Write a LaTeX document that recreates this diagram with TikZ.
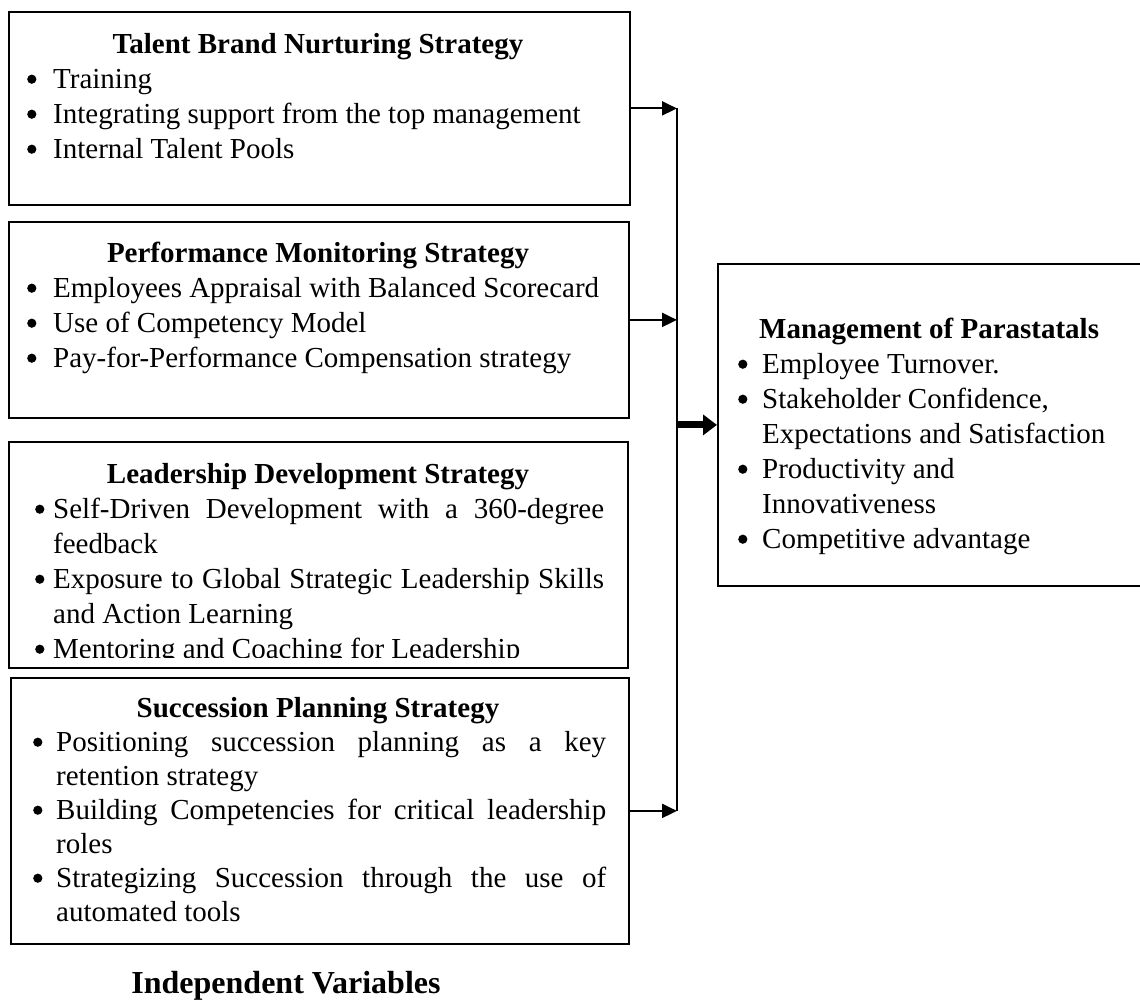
\documentclass[tikz,border=0pt]{standalone}
\usepackage{fontspec}
\setmainfont{Liberation Serif}
\usetikzlibrary{arrows.meta}

% round bullet mark, sitting at mid x-height
\newcommand{\dotmark}{\tikz[baseline=0pt]\fill (4.6pt,8.8pt) circle[radius=4.6pt];}
% one bulleted entry with a hanging indent of #1
\newcommand{\entry}[2]{\par\noindent\hangindent=#1\hangafter=1\makebox[#1][l]{\dotmark}#2}
\newcommand{\bodyfont}{\fontsize{29pt}{35pt}\selectfont}

\tikzset{
  frame/.style={draw, line width=1.8pt, rectangle, inner sep=0pt, anchor=north west},
  heading/.style={anchor=base, inner sep=0pt, font=\bodyfont\bfseries},
  items/.style={anchor=base west, inner sep=0pt},
  link/.style={line width=2pt, -{Triangle[length=15pt,width=14pt]}},
  bus/.style={line width=2pt},
  mainlink/.style={line width=7pt, -{Triangle[length=14pt,width=20pt]}},
}

\begin{document}
\begin{tikzpicture}[x=1pt,y=-1pt]
\useasboundingbox (0,0) rectangle (1140,999);
\clip (0,0) rectangle (1140,999);

% strategy boxes
\node[frame, minimum width=621pt, minimum height=193pt] (b1) at (8,11) {};
\node[frame, minimum width=620pt, minimum height=196pt] (b2) at (8,221) {};
\node[frame, minimum width=619pt, minimum height=226pt] (b3) at (8,441) {};
\node[frame, minimum width=618pt, minimum height=266pt] (b4) at (10,677) {};
% outcome box
\node[frame, minimum width=453pt, minimum height=322pt] (dv) at (717,263) {};

% Talent brand
\node[heading] (h1) at (318,53) {Talent Brand Nurturing Strategy};
\node[items] (l1) at (27,88) {\parbox[t]{577pt}{\bodyfont
  \entry{26pt}{Training}
  \entry{26pt}{Integrating support from the top management}
  \entry{26pt}{Internal Talent Pools}}};

% Performance monitoring
\node[heading] (h2) at (318,262) {Performance Monitoring Strategy};
\node[items] (l2) at (27,297) {\parbox[t]{577pt}{\bodyfont
  \entry{26pt}{Employees Appraisal with Balanced Scorecard}
  \entry{26pt}{Use of Competency Model}
  \entry{26pt}{Pay-for-Performance Compensation strategy}}};

% Leadership development (last line runs past the text area)
\node[heading] (h3) at (318,483) {Leadership Development Strategy};
\begin{scope}
\clip (0,441) rectangle (640,657);
\node[items] (l3) at (35,518) {\parbox[t]{569pt}{\bodyfont
  \entry{18pt}{Self-Driven Development with a 360-degree\linebreak feedback}
  \entry{18pt}{Exposure to Global Strategic Leadership Skills\linebreak and Action Learning}
  \entry{18pt}{Mentoring and Coaching for Leadership}}};
\end{scope}

% Succession planning
\node[heading] (h4) at (318,717) {Succession Planning Strategy};
\node[items] (l4) at (33,751) {\parbox[t]{573pt}{\fontsize{29pt}{34pt}\selectfont
  \entry{23pt}{Positioning succession planning as a key\linebreak retention strategy}
  \entry{23pt}{Building Competencies for critical leadership\linebreak roles}
  \entry{23pt}{Strategizing Succession through the use of\linebreak automated tools}}};

% Outcomes
\node[heading, anchor=base west] (h5) at (759,338) {Management of Parastatals};
\node[items] (l5) at (738,373) {\parbox[t]{400pt}{\bodyfont
  \entry{24pt}{Employee Turnover.}
  \entry{24pt}{Stakeholder Confidence,\newline Expectations and Satisfaction}
  \entry{24pt}{Productivity and\newline Innovativeness}
  \entry{24pt}{Competitive advantage}}};

\node[anchor=base, inner sep=0pt, font=\fontsize{32pt}{38pt}\selectfont\bfseries] (iv) at (286,993) {Independent Variables};

% connectors
\coordinate (bt) at (677,0);
\draw[bus] (b1.east -| bt) -- (b4.east -| bt);
\draw[link] (b1.east) -- (b1.east -| bt);
\draw[link] (b2.east) -- (b2.east -| bt);
\draw[link] (b4.east) -- (b4.east -| bt);
\draw[mainlink] (dv.west -| bt) -- (dv.west);
\end{tikzpicture}
\end{document}
